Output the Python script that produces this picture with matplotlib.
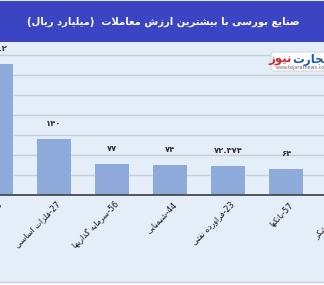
import re
import numpy as np
import matplotlib
matplotlib.use("Agg")
import matplotlib.pyplot as plt
from matplotlib.patches import Rectangle, FancyBboxPatch

# داده ها
industries = ["34-خودرو", "27-فلزات اساسی", "56-سرمایه گذاریها", "44-شیمیایی",
              "23-فراورده نفتی", "57-بانکها", "42-قند و شکر"]
values = [327.2, 140, 77, 74, 72.374, 64, 60]
title = "صنایع بورسی با بیشترین ارزش معاملات  (میلیارد ریال)"
y_ticks = [50, 100, 150, 200, 250, 300, 350]

# شکل حروف عربی/فارسی (isolated, final, initial, medial)
FORMS = {
    "ا": ("\uFE8D", "\uFE8E", None, None),
    "ب": ("\uFE8F", "\uFE90", "\uFE91", "\uFE92"),
    "ت": ("\uFE95", "\uFE96", "\uFE97", "\uFE98"),
    "ج": ("\uFE9D", "\uFE9E", "\uFE9F", "\uFEA0"),
    "خ": ("\uFEA5", "\uFEA6", "\uFEA7", "\uFEA8"),
    "د": ("\uFEA9", "\uFEAA", None, None),
    "ذ": ("\uFEAB", "\uFEAC", None, None),
    "ر": ("\uFEAD", "\uFEAE", None, None),
    "ز": ("\uFEAF", "\uFEB0", None, None),
    "س": ("\uFEB1", "\uFEB2", "\uFEB3", "\uFEB4"),
    "ش": ("\uFEB5", "\uFEB6", "\uFEB7", "\uFEB8"),
    "ص": ("\uFEB9", "\uFEBA", "\uFEBB", "\uFEBC"),
    "ع": ("\uFEC9", "\uFECA", "\uFECB", "\uFECC"),
    "ف": ("\uFED1", "\uFED2", "\uFED3", "\uFED4"),
    "ق": ("\uFED5", "\uFED6", "\uFED7", "\uFED8"),
    "ل": ("\uFEDD", "\uFEDE", "\uFEDF", "\uFEE0"),
    "م": ("\uFEE1", "\uFEE2", "\uFEE3", "\uFEE4"),
    "ن": ("\uFEE5", "\uFEE6", "\uFEE7", "\uFEE8"),
    "ه": ("\uFEE9", "\uFEEA", "\uFEEB", "\uFEEC"),
    "و": ("\uFEED", "\uFEEE", None, None),
    "ی": ("\uFBFC", "\uFBFD", "\uFBFE", "\uFBFF"),
    "ک": ("\uFB8E", "\uFB8F", "\uFB90", "\uFB91"),
    "گ": ("\uFB92", "\uFB93", "\uFB94", "\uFB95"),
}


def shape(s):
    res = []
    i = 0
    while i < len(s):
        c = s[i]
        if c not in FORMS:
            res.append(c)
            i += 1
            continue
        prev = s[i - 1] if i > 0 else ""
        jp = prev in FORMS and FORMS[prev][2] is not None
        if c == "ل" and i + 1 < len(s) and s[i + 1] == "ا":
            res.append("\uFEFC" if jp else "\uFEFB")
            i += 2
            continue
        nxt = s[i + 1] if i + 1 < len(s) else ""
        jn = FORMS[c][2] is not None and nxt in FORMS
        iso, fin, ini, med = FORMS[c]
        if jp and jn:
            res.append(med)
        elif jp:
            res.append(fin)
        elif jn:
            res.append(ini)
        else:
            res.append(iso)
        i += 1
    return "".join(res)


def rtl(s):
    t = shape(s)[::-1]
    t = re.sub(r"[0-9]+", lambda m: m.group(0)[::-1], t)
    return t.translate(str.maketrans("()", ")("))


fa_digits = str.maketrans("0123456789.", "۰۱۲۳۴۵۶۷۸۹.")

plt.rcParams["font.family"] = ["DejaVu Sans"]

W, H = 324, 285
fig = plt.figure(figsize=(W / 100, H / 100), dpi=100)
fig.patch.set_facecolor("white")

# پس زمینه آبی روشن
fig.patches.append(Rectangle((0, 3 / H), 1, 1, transform=fig.transFigure,
                             facecolor="#e3eef8", edgecolor="none", zorder=-2))
fig.lines.append(plt.Line2D([0, 1], [3 / H, 3 / H], transform=fig.transFigure,
                            color="#c9cfd6", lw=1, zorder=-1))
# نوار عنوان
fig.patches.append(Rectangle((0, (H - 42) / H), 1, 41 / H, transform=fig.transFigure,
                             facecolor="#3b45c3", edgecolor="none", zorder=1))
fig.text(0.505, (H - 22) / H, rtl(title), color="white", fontsize=7.2,
         fontweight="bold", ha="center", va="center", zorder=2)

ax = fig.add_axes([0, (H - 195) / H, 1, 152 / H])
ax.set_facecolor("none")
x = np.arange(len(industries))
ax.bar(x, values, width=0.59, color="#8eaadb", zorder=2)
ax.set_xticks([])
ax.set_xlim(0.069, 0.069 + W / 58)
ax.set_ylim(0, 380)
ax.set_yticks(y_ticks)
ax.yaxis.grid(True, color="#c8ced6", lw=1)
ax.set_axisbelow(True)
ax.tick_params(left=False, labelleft=False, bottom=False)
for s in ["top", "left", "right"]:
    ax.spines[s].set_visible(False)
ax.spines["bottom"].set_color("#4a4a4a")
ax.spines["bottom"].set_linewidth(1.3)

# برچسب دسته ها (چرخیده)
for xi, name in zip(x, industries):
    ax.annotate(rtl(name), (xi, 0), xytext=(1.5, -3.5), textcoords="offset points",
                rotation=45, rotation_mode="anchor", ha="right", va="top",
                fontsize=5.8, color="#1a1a1a", annotation_clip=False)

# برچسب مقادیر
for xi, v in zip(x, values):
    ax.annotate(format(v, "g").translate(fa_digits), (xi, v), xytext=(0, 8),
                textcoords="offset points", ha="center", va="bottom",
                fontsize=6, fontweight="bold", color="#333", annotation_clip=False)

# لوگو
fig.patches.append(FancyBboxPatch((271 / W, (H - 71) / H), 70 / W, 19 / H,
                                  boxstyle="round,pad=0,rounding_size=0.01",
                                  transform=fig.transFigure, facecolor="white",
                                  edgecolor="#d0d6de", lw=0.8, zorder=3))
fig.text(292 / W, (H - 59) / H, rtl("نیوز"), color="#d8262c", fontsize=8.5,
         fontweight="bold", ha="right", va="center", zorder=4)
fig.text(292 / W, (H - 59) / H, rtl("تجارت"), color="#1a5bb8", fontsize=8.5,
         fontweight="bold", ha="left", va="center", zorder=4)
fig.text(276 / W, (H - 67) / H, "www.tejaratnews.com", color="#666",
         fontsize=3.5, ha="left", va="center", zorder=4)

fig.savefig("out.png", dpi=100)
